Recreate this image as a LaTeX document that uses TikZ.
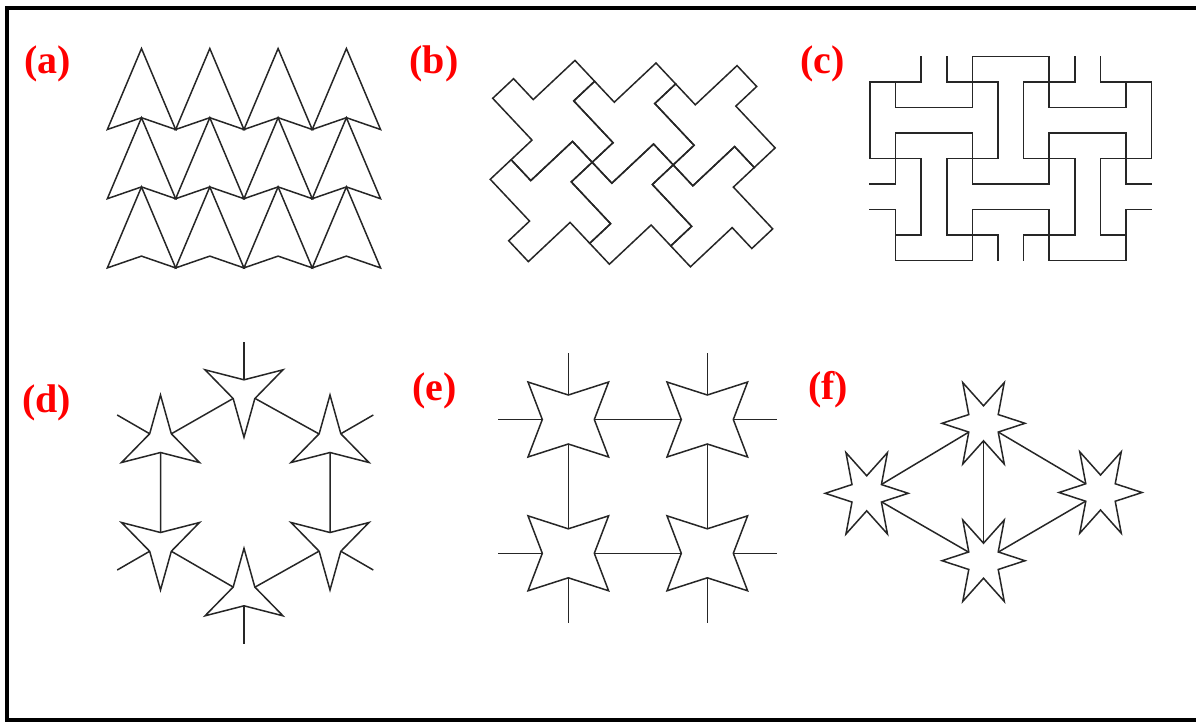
\documentclass[tikz,border=0pt]{standalone}
\usepackage{fontspec}
\setmainfont{Liberation Serif}
\usetikzlibrary{calc}
\tikzset{
  ln/.style={line width=1.5pt, draw=black!85, line join=miter},
  starshape/.style={ln, fill=white},
  lbl/.style={text=red, font=\fontsize{40}{40}\selectfont\bfseries, inner sep=0pt, anchor=base west},
  frameline/.style={line width=4pt, draw=black}
}
% #1 centre, #2 points, #3/#4 outer radii, #5/#6 inner radii, #7 first tip angle
\newcommand\polystar[7]{%
  \draw[starshape] ($(#1)+(#7:#3 and #4)$)
    \foreach \k in {1,...,#2}{ -- ($(#1)+({#7+(\k-0.5)*360/#2}:#5 and #6)$) -- ($(#1)+({#7+\k*360/#2}:#3 and #4)$) } -- cycle;}
\begin{document}
\begin{tikzpicture}[x=1pt,y=-1pt]
\path[use as bounding box] (0,0) rectangle (1196,721);
\begin{scope}
\clip (0,0) rectangle (1196,721);
\coordinate (frTR) at (1230,7.5);
\coordinate (frTL) at (6.5,7.5);
\coordinate (frBL) at (6.5,719.5);
\coordinate (frBR) at (1230,719.5);
\draw[frameline] (frTR) -- (frTL) -- (frBL) -- (frBR);
\end{scope}

% labels
\node[lbl] (la) at (24,73.5) {(a)};
\node[lbl] (lb) at (409.3,73.3) {(b)};
\node[lbl] (lc) at (800,73) {(c)};
\node[lbl] (ld) at (22,412.5) {(d)};
\node[lbl] (le) at (412,400) {(e)};
\node[lbl] (lf) at (808,399) {(f)};

% (a) arrowheads
\foreach \r in {0,1,2}{\foreach \c in {0,...,3}{
  \pgfmathsetmacro\cx{141.5+68.3*\c}
  \pgfmathsetmacro\ty{48.5+69.2*\r}
  \draw[ln] (\cx,\ty) -- (\cx+34.15,\ty+81) -- (\cx,\ty+69.2) -- (\cx-34.15,\ty+81) -- cycle;
}}

% (b) pinwheel tiles
\begin{scope}[shift={(492.7,98.3)}, x={(19.65pt,-20.9pt)}, y={(20.87pt,19.6pt)}]
\foreach \a/\b in {0/0,2/2,4/4,2/-2,4/0,6/2}{
  \draw[ln,shift={(\a,\b)}] (0,0) -- (0,1) -- (1,1) -- (1,3) -- (2,3) -- (2,2) -- (4,2) -- (4,1) -- (3,1) -- (3,-1) -- (2,-1) -- (2,0) -- cycle;
}
\end{scope}

% (c) maze
\begin{scope}[shift={(870,56.7)}, x=25.6pt, y=-25.5pt]
\foreach \j/\a/\b in {0/4/7, 1/0/2, 1/3/5, 1/6/8, 1/9/11, 2/1/4, 2/7/10, 3/1/4, 3/7/10, 4/0/2, 4/3/5, 4/6/8, 4/9/11, 5/0/1, 5/4/7, 5/10/11, 6/0/1, 6/4/7, 6/10/11, 7/1/2, 7/3/5, 7/6/8, 7/9/10, 8/1/4, 8/7/10}
  {\draw[ln,line cap=rect] (\a,\j) -- (\b,\j);}
\foreach \i/\a/\b in {0/1/4, 1/1/2, 1/3/5, 1/6/8, 2/0/1, 2/4/7, 3/0/1, 3/4/7, 4/0/2, 4/3/5, 4/6/8, 5/1/4, 5/7/8, 6/1/4, 6/7/8, 7/0/2, 7/3/5, 7/6/8, 8/0/1, 8/4/7, 9/0/1, 9/4/7, 10/1/2, 10/3/5, 10/6/8, 11/1/4}
  {\draw[ln,line cap=rect] (\i,\a) -- (\i,\b);}
\end{scope}

% (d) hexagon of three-pointed stars
\coordinate (dT)  at (244,392.3);
\coordinate (dUL) at (160.5,440);
\coordinate (dLL) at (160.5,545);
\coordinate (dB)  at (244,593.3);
\coordinate (dLR) at (330,545);
\coordinate (dUR) at (330,440);
\coordinate (dTs)  at (244,342);
\coordinate (dULs) at (117.2,415);
\coordinate (dLLs) at (117.2,570);
\coordinate (dBs)  at (244,643.5);
\coordinate (dLRs) at (373.3,570);
\coordinate (dURs) at (373.3,415);
\draw[ln] (dT) -- (dUL) -- (dLL) -- (dB) -- (dLR) -- (dUR) -- cycle;
\draw[ln] (dT) -- (dTs);
\draw[ln] (dUL) -- (dULs);
\draw[ln] (dLL) -- (dLLs);
\draw[ln] (dB) -- (dBs);
\draw[ln] (dLR) -- (dLRs);
\draw[ln] (dUR) -- (dURs);
\polystar{dT}{3}{45}{45}{12.5}{12.5}{90}
\polystar{dUL}{3}{45}{45}{12.5}{12.5}{270}
\polystar{dLL}{3}{45}{45}{12.5}{12.5}{90}
\polystar{dB}{3}{45}{45}{12.5}{12.5}{270}
\polystar{dLR}{3}{45}{45}{12.5}{12.5}{90}
\polystar{dUR}{3}{45}{45}{12.5}{12.5}{270}

% (e) square of four-pointed stars
\coordinate (eTL) at (568.3,419.5);
\coordinate (eTR) at (707.3,419.5);
\coordinate (eBL) at (568.3,553.3);
\coordinate (eBR) at (707.3,553.3);
\coordinate (eH1a) at (498.3,419.5);
\coordinate (eH1b) at (776.7,419.5);
\coordinate (eH2a) at (498.3,553.3);
\coordinate (eH2b) at (776.7,553.3);
\coordinate (eV1a) at (568.3,353.3);
\coordinate (eV1b) at (568.3,623.3);
\coordinate (eV2a) at (707.3,353.3);
\coordinate (eV2b) at (707.3,623.3);
\draw[ln] (eH1a) -- (eH1b);
\draw[ln] (eH2a) -- (eH2b);
\draw[ln] (eV1a) -- (eV1b);
\draw[ln] (eV2a) -- (eV2b);
\polystar{eTL}{4}{57}{53}{26}{24.5}{45}
\polystar{eTR}{4}{57}{53}{26}{24.5}{45}
\polystar{eBL}{4}{57}{53}{26}{24.5}{45}
\polystar{eBR}{4}{57}{53}{26}{24.5}{45}

% (f) rhombus of six-pointed stars
\coordinate (fT) at (983.5,423.3);
\coordinate (fL) at (866.7,493.3);
\coordinate (fR) at (1100.5,492.5);
\coordinate (fB) at (983.5,560.7);
\draw[ln] (fL) -- (fT) -- (fR) -- (fB) -- cycle;
\draw[ln] (fT) -- (fB);
\polystar{fT}{6}{41.5}{47}{17}{17.5}{0}
\polystar{fL}{6}{41.5}{47}{17}{17.5}{0}
\polystar{fR}{6}{41.5}{47}{17}{17.5}{0}
\polystar{fB}{6}{41.5}{47}{17}{17.5}{0}
\end{tikzpicture}
\end{document}
